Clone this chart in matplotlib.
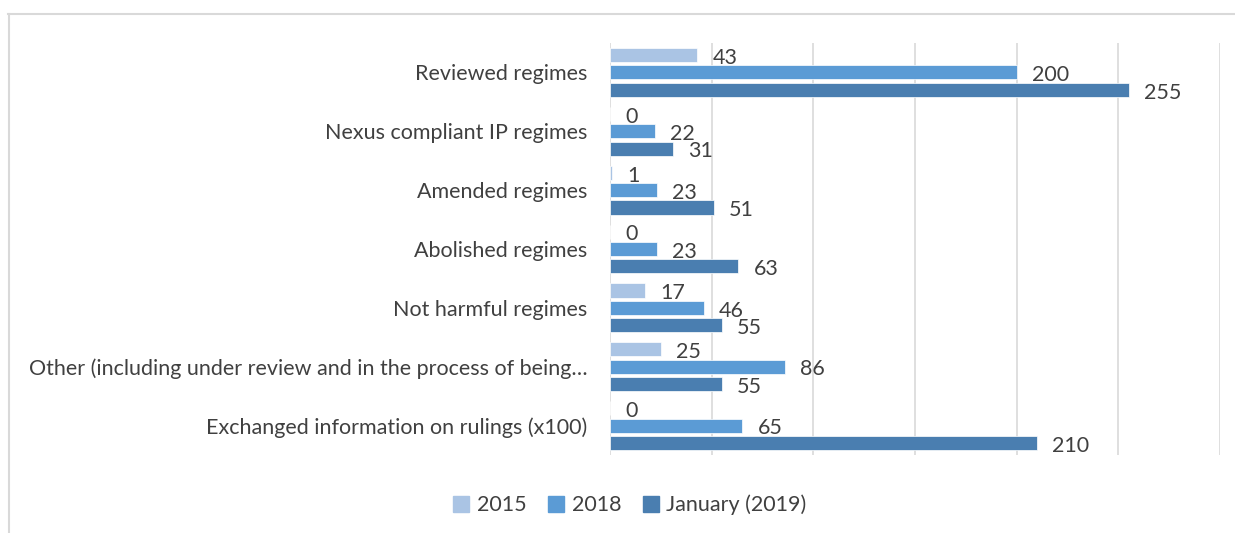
import numpy as np
import matplotlib
matplotlib.use("Agg")
import matplotlib.pyplot as plt
from matplotlib.lines import Line2D

categories = [
    "Reviewed regimes",
    "Nexus compliant IP regimes",
    "Amended regimes",
    "Abolished regimes",
    "Not harmful regimes",
    "Other (including under review and in the process of being\u2026",
    "Exchanged information on rulings (x100)",
]
series_names = ["2015", "2018", "January (2019)"]
v2015 = [43, 0, 1, 0, 17, 25, 0]
v2018 = [200, 22, 23, 23, 46, 86, 65]
v2019 = [255, 31, 51, 63, 55, 55, 210]

colors = ["#AAC4E4", "#5B9BD5", "#4A7EB0"]
text_color = "#404040"

plt.rcParams["font.family"] = ["Lato", "DejaVu Sans"]

W, H = 1235, 533
fig = plt.figure(figsize=(W / 100, H / 100), dpi=100)
ax = fig.add_axes([610 / W, 1 - 455 / H, (1220 - 610) / W, (455 - 43) / H])

y = np.arange(len(categories))
bar_h = 0.24
step = 0.295
for i, (vals, col, name) in enumerate(zip([v2015, v2018, v2019], colors, series_names)):
    pos = y + (i - 1) * step
    ax.barh(pos, vals, height=bar_h, color=col, label=name,
            edgecolor="white", linewidth=0.5)
    for p, v in zip(pos, vals):
        ax.annotate(str(v), (v, p), xytext=(11, -2), textcoords="offset points",
                    va="center", ha="left", fontsize=15.5, color=text_color)

ax.set_xlim(0, 300)
ax.set_ylim(len(categories) - 0.5, -0.5)
ax.set_xticks(np.arange(0, 301, 50))
ax.set_xticklabels([])
ax.tick_params(axis="x", length=0)
ax.tick_params(axis="y", length=0, pad=16.5)
ax.set_yticks(y)
ax.set_yticklabels(categories, fontsize=15.5, color=text_color)
ax.grid(axis="x", color="#D9D9D9", linewidth=1.2)
ax.set_axisbelow(True)
for s in ax.spines.values():
    s.set_visible(False)

handles = [plt.Rectangle((0, 0), 1, 1, color=c) for c in colors]
leg = fig.legend(handles, series_names, loc="center", bbox_to_anchor=(630 / W, 1 - 505 / H),
                 ncol=3, frameon=False, fontsize=15.5, handlelength=0.75, handleheight=0.75,
                 handletextpad=0.35, columnspacing=1.0)
for t in leg.get_texts():
    t.set_color(text_color)

# outer chart frame
fig.add_artist(Line2D([8 / W, 1.0], [1 - 14 / H] * 2, color="#D9D9D9", linewidth=1.5,
                      transform=fig.transFigure))
fig.add_artist(Line2D([9 / W] * 2, [1 - 14 / H, 0], color="#D9D9D9", linewidth=1.5,
                      transform=fig.transFigure))

fig.savefig("out.png", dpi=100, facecolor="white")
